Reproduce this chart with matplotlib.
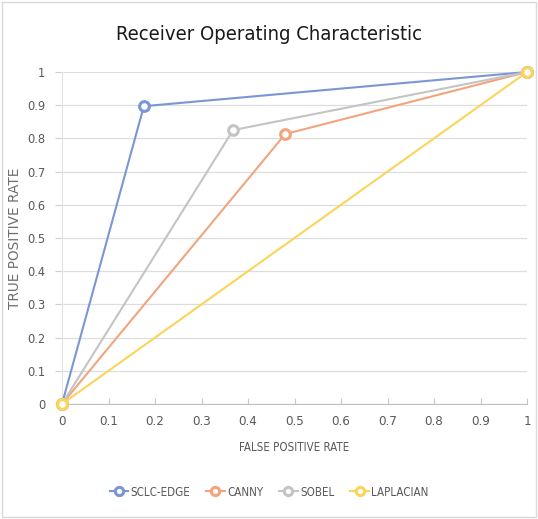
import matplotlib
matplotlib.use("Agg")
import matplotlib.pyplot as plt
from matplotlib.patches import Rectangle

plt.rcParams['font.family'] = ['DejaVu Sans']

series = ["SCLC-EDGE", "CANNY", "SOBEL", "LAPLACIAN"]
fpr = {
    "SCLC-EDGE": [0, 0.176, 1],
    "CANNY": [0, 0.48, 1],
    "SOBEL": [0, 0.368, 1],
    "LAPLACIAN": [0, 1],
}
tpr = {
    "SCLC-EDGE": [0, 0.897, 1],
    "CANNY": [0, 0.813, 1],
    "SOBEL": [0, 0.825, 1],
    "LAPLACIAN": [0, 1],
}
colors = {
    "SCLC-EDGE": "#7B96D4",
    "CANNY": "#F2A47C",
    "SOBEL": "#C4C4C4",
    "LAPLACIAN": "#FBD45A",
}
ticks = [0, 0.1, 0.2, 0.3, 0.4, 0.5, 0.6, 0.7, 0.8, 0.9, 1]
tick_labels = ["0", "0.1", "0.2", "0.3", "0.4", "0.5", "0.6", "0.7", "0.8", "0.9", "1"]

fig = plt.figure(figsize=(5.38, 5.19), dpi=100)
fig.patches.append(Rectangle((0.004, 0.004), 0.992, 0.992, transform=fig.transFigure,
                             fill=False, edgecolor="#D9D9D9", linewidth=1))
ax = fig.add_axes([62/538, 1-404/519, 465/538, 332/519])

for s in series:
    ax.plot(fpr[s], tpr[s], color=colors[s], linewidth=1.5, marker='o', markersize=7,
            markerfacecolor='white', markeredgecolor=colors[s], markeredgewidth=2.2,
            clip_on=False, zorder=3, label=s)

ax.set_xlim(0, 1)
ax.set_ylim(0, 1)
ax.set_xticks(ticks)
ax.set_xticklabels(tick_labels, fontstretch='condensed')
ax.set_yticks(ticks)
ax.set_yticklabels(tick_labels, fontstretch='condensed')
ax.grid(axis='y', color='#DEDEDE', linewidth=0.9)
ax.set_axisbelow(True)
for sp in ['top', 'right']:
    ax.spines[sp].set_visible(False)
ax.spines['bottom'].set_color('#BFBFBF')
ax.spines['left'].set_color('#E3E3E3')
ax.tick_params(axis='x', length=4, direction='in', color='#C8C8C8', labelsize=9.5,
               labelcolor='#595959', pad=8)
ax.tick_params(axis='y', length=5, direction='out', color='#D0D0D0', labelsize=9.2,
               labelcolor='#595959', pad=7)

ax.set_xlabel("FALSE POSITIVE RATE", fontsize=8.3, color='#595959', labelpad=9,
              fontstretch='condensed')
ax.set_ylabel("TRUE POSITIVE RATE", fontsize=9.8, color='#6E6E6E')
ax.yaxis.set_label_coords(-0.086, 0.5)

fig.text(0.5, 1-35/519, "Receiver Operating Characteristic", ha='center', va='center',
         fontsize=14.5, color='#1a1a1a', fontstretch='condensed')

fig.legend(loc='center', bbox_to_anchor=(0.5, 1-492/519), ncol=4, frameon=False,
           handlelength=1.6, columnspacing=1.4, handletextpad=0.2, markerscale=0.85,
           labelcolor='#595959', prop={'stretch': 'condensed', 'size': 8.3})

fig.savefig("out.png", dpi=100)
